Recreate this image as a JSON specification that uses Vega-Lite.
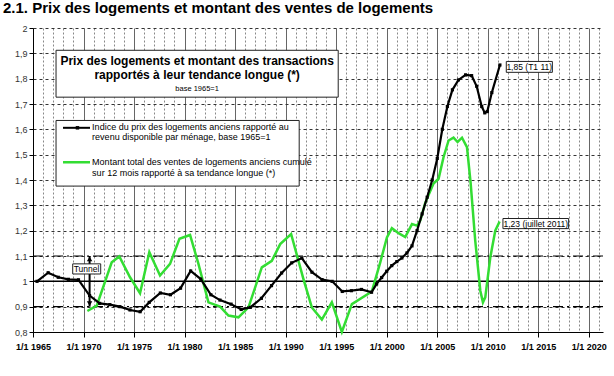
{
  "$schema": "https://vega.github.io/schema/vega-lite/v6.json",
  "width": 570,
  "height": 304,
  "autosize": {"type": "none"},
  "padding": {"left": 33, "top": 28, "right": 11, "bottom": 44},
  "background": "white",
  "title": {"text": "2.1. Prix des logements et montant des ventes de logements", "anchor": "start", "frame": "group", "dx": -30, "dy": 18, "offset": 14, "baseline": "alphabetic", "font": "Liberation Sans", "fontSize": 15, "fontWeight": "bold", "color": "#000"},
  "config": {"view": {"stroke": null}, "font": "Liberation Sans"},
  "datasets": {
    "black": [
      {"year": 1965.4, "value": 1.000}, {"year": 1966.5, "value": 1.034}, {"year": 1967.5, "value": 1.016}, {"year": 1968.5, "value": 1.008}, {"year": 1969.5, "value": 1.006},
      {"year": 1970.6, "value": 0.944}, {"year": 1971.6, "value": 0.913}, {"year": 1972.6, "value": 0.908}, {"year": 1973.6, "value": 0.900}, {"year": 1974.6, "value": 0.887},
      {"year": 1975.6, "value": 0.880}, {"year": 1976.5, "value": 0.917}, {"year": 1977.6, "value": 0.954}, {"year": 1978.6, "value": 0.947}, {"year": 1979.6, "value": 0.973},
      {"year": 1980.6, "value": 1.041}, {"year": 1981.6, "value": 1.009}, {"year": 1982.6, "value": 0.947}, {"year": 1983.5, "value": 0.926}, {"year": 1984.6, "value": 0.910},
      {"year": 1985.6, "value": 0.889}, {"year": 1986.5, "value": 0.897}, {"year": 1987.6, "value": 0.933}, {"year": 1988.6, "value": 0.983}, {"year": 1989.6, "value": 1.033},
      {"year": 1990.6, "value": 1.073}, {"year": 1991.6, "value": 1.092}, {"year": 1992.6, "value": 1.036}, {"year": 1993.6, "value": 1.007}, {"year": 1994.6, "value": 1.000},
      {"year": 1995.6, "value": 0.960}, {"year": 1996.5, "value": 0.963}, {"year": 1997.5, "value": 0.968}, {"year": 1998.5, "value": 0.957}, {"year": 1999.0, "value": 0.990},
      {"year": 1999.5, "value": 1.015}, {"year": 2000.0, "value": 1.040}, {"year": 2000.5, "value": 1.062}, {"year": 2001.0, "value": 1.078}, {"year": 2001.5, "value": 1.092},
      {"year": 2002.0, "value": 1.112}, {"year": 2002.5, "value": 1.140}, {"year": 2003.0, "value": 1.200}, {"year": 2003.5, "value": 1.266}, {"year": 2004.0, "value": 1.332},
      {"year": 2004.5, "value": 1.400}, {"year": 2005.0, "value": 1.485}, {"year": 2005.5, "value": 1.600}, {"year": 2006.0, "value": 1.690}, {"year": 2006.5, "value": 1.756},
      {"year": 2007.1, "value": 1.795}, {"year": 2007.8, "value": 1.815}, {"year": 2008.4, "value": 1.812}, {"year": 2008.9, "value": 1.770}, {"year": 2009.4, "value": 1.690},
      {"year": 2009.7, "value": 1.665}, {"year": 2009.95, "value": 1.670}, {"year": 2010.4, "value": 1.745}, {"year": 2011.2, "value": 1.854}
    ],
    "green": [
      {"year": 1970.38, "value": 0.883}, {"year": 1971.31, "value": 0.904}, {"year": 1972.79, "value": 1.075}, {"year": 1973.54, "value": 1.098}, {"year": 1974.6, "value": 1.016},
      {"year": 1975.59, "value": 0.953}, {"year": 1976.51, "value": 1.115}, {"year": 1977.57, "value": 1.023}, {"year": 1978.56, "value": 1.069}, {"year": 1979.49, "value": 1.168},
      {"year": 1980.54, "value": 1.183}, {"year": 1981.37, "value": 1.069}, {"year": 1982.36, "value": 0.917}, {"year": 1983.51, "value": 0.900}, {"year": 1984.34, "value": 0.865},
      {"year": 1985.33, "value": 0.858}, {"year": 1986.32, "value": 0.897}, {"year": 1987.64, "value": 1.055}, {"year": 1988.63, "value": 1.081}, {"year": 1989.46, "value": 1.147},
      {"year": 1990.54, "value": 1.187}, {"year": 1991.76, "value": 1.009}, {"year": 1992.59, "value": 0.897}, {"year": 1993.58, "value": 0.849}, {"year": 1994.57, "value": 0.917},
      {"year": 1995.56, "value": 0.800}, {"year": 1996.55, "value": 0.910}, {"year": 1998.53, "value": 0.960}, {"year": 1999.36, "value": 1.075}, {"year": 2000.02, "value": 1.173},
      {"year": 2000.51, "value": 1.210}, {"year": 2001.17, "value": 1.190}, {"year": 2001.83, "value": 1.175}, {"year": 2002.5, "value": 1.226}, {"year": 2002.99, "value": 1.220},
      {"year": 2003.32, "value": 1.240}, {"year": 2003.81, "value": 1.310}, {"year": 2004.63, "value": 1.386}, {"year": 2005.13, "value": 1.405}, {"year": 2005.62, "value": 1.490},
      {"year": 2006.12, "value": 1.556}, {"year": 2006.61, "value": 1.567}, {"year": 2007.01, "value": 1.550}, {"year": 2007.45, "value": 1.567}, {"year": 2007.94, "value": 1.530},
      {"year": 2008.3, "value": 1.390}, {"year": 2008.76, "value": 1.160}, {"year": 2009.26, "value": 0.963}, {"year": 2009.52, "value": 0.917}, {"year": 2009.75, "value": 0.937},
      {"year": 2010.25, "value": 1.095}, {"year": 2010.74, "value": 1.200}, {"year": 2011.17, "value": 1.236}
    ],
    "boxes": [
      {"x1": 1967.28, "x2": 1995.2, "y1": 1.727, "y2": 1.912},
      {"x1": 1967.28, "x2": 1991.34, "y1": 1.376, "y2": 1.635},
      {"x1": 2011.83, "x2": 2016.39, "y1": 1.825, "y2": 1.868},
      {"x1": 2011.5, "x2": 2018.0, "y1": 1.208, "y2": 1.248},
      {"x1": 1968.93, "x2": 1971.7, "y1": 1.029, "y2": 1.069}
    ],
    "titleLines": [
      {"year": 1981.24, "value": 1.8696, "text": "Prix des logements et montant des transactions"},
      {"year": 1981.24, "value": 1.813, "text": "rapportés à leur tendance longue (*)"}
    ],
    "baseLine": [{"year": 1981.24, "value": 1.760, "text": "base 1965=1"}],
    "legendText": [
      {"year": 1970.85, "value": 1.6075, "text": "Indice du prix des logements anciens rapporté au"},
      {"year": 1970.85, "value": 1.569, "text": "revenu disponible par ménage, base 1965=1"},
      {"year": 1970.85, "value": 1.470, "text": "Montant total des ventes de logements anciens cumulé"},
      {"year": 1970.85, "value": 1.4285, "text": "sur 12 mois rapporté à sa tendance longue (*)"}
    ],
    "annot": [
      {"year": 2014.1, "value": 1.847, "text": "1,85 (T1 11)"},
      {"year": 2014.75, "value": 1.228, "text": "1,23 (juillet 2011)"},
      {"year": 1970.3, "value": 1.049, "text": "Tunnel"}
    ],
    "tunnel": [{"year": 1970.6, "lo": 0.9, "hi": 1.1}],
    "sampleBlack": [{"x1": 1967.97, "x2": 1970.64, "value": 1.606, "mk": 1969.4}],
    "sampleGreen": [{"x1": 1967.97, "x2": 1970.64, "value": 1.47}]
  },
  "layer": [
    {
      "data": {"values": [{"value": 1.0}]},
      "mark": {"type": "rule", "color": "#000", "strokeWidth": 1.5},
      "encoding": {
        "y": {"field": "value", "type": "quantitative", "title": null,
          "scale": {"domain": [0.8, 2.0], "nice": false, "zero": false},
          "axis": {"values": [0.8, 0.9, 1.0, 1.1, 1.2, 1.3, 1.4, 1.5, 1.6, 1.7, 1.8, 1.9, 2.0], "tickCount": 50,
            "labelExpr": "replace(format(datum.value, '.1~f'), '.', ',')",
            "labelFontSize": 9, "labelColor": "#333", "labelPadding": 2, "tickSize": 4, "tickColor": "#000",
            "domainColor": "#000", "grid": true, "gridColor": "#333", "gridDash": [3, 3], "gridWidth": 1}}
      }
    },
    {
      "data": {"values": [{"value": 0.9}, {"value": 1.1}]},
      "mark": {"type": "rule", "color": "#000", "strokeWidth": 1.2, "strokeDash": [10, 4, 2, 4]},
      "encoding": {"y": {"field": "value", "type": "quantitative", "title": null}}
    },
    {
      "data": {"name": "green"},
      "mark": {"type": "line", "color": "#33dd33", "strokeWidth": 2.5},
      "encoding": {
        "x": {"field": "year", "type": "quantitative", "title": null,
          "scale": {"domain": [1965, 2021.4], "nice": false, "zero": false},
          "axis": {"values": [1965,1966,1967,1968,1969,1970,1971,1972,1973,1974,1975,1976,1977,1978,1979,1980,1981,1982,1983,1984,1985,1986,1987,1988,1989,1990,1991,1992,1993,1994,1995,1996,1997,1998,1999,2000,2001,2002,2003,2004,2005,2006,2007,2008,2009,2010,2011,2012,2013,2014,2015,2016,2017,2018,2019,2020,2021],
            "tickCount": 200,
            "labelExpr": "datum.value % 5 === 0 ? '1/1 ' + datum.value : ''",
            "labelFontSize": 9, "labelFontWeight": "bold", "labelColor": "#000", "labelPadding": 5, "labelFlush": false, "labelOverlap": false,
            "tickSize": 5, "tickColor": "#000", "tickOpacity": {"condition": {"test": "datum.value % 5 === 0", "value": 1}, "value": 0},
            "domainColor": "#000", "grid": true,
            "gridColor": {"condition": {"test": "datum.value % 5 === 0", "value": "#666"}, "value": "#888"},
            "gridDash": {"condition": {"test": "datum.value % 5 === 0", "value": []}, "value": [2, 2]},
            "gridWidth": 1}},
        "y": {"field": "value", "type": "quantitative", "title": null}
      }
    },
    {
      "data": {"name": "black"},
      "mark": {"type": "line", "color": "#000", "strokeWidth": 2.2},
      "encoding": {
        "x": {"field": "year", "type": "quantitative", "title": null},
        "y": {"field": "value", "type": "quantitative", "title": null}
      }
    },
    {
      "data": {"name": "black"},
      "mark": {"type": "point", "shape": "square", "filled": true, "color": "#000", "size": 10, "opacity": 1},
      "encoding": {
        "x": {"field": "year", "type": "quantitative", "title": null},
        "y": {"field": "value", "type": "quantitative", "title": null}
      }
    },
    {
      "data": {"name": "tunnel"},
      "mark": {"type": "rule", "color": "#000", "strokeWidth": 2},
      "encoding": {
        "x": {"field": "year", "type": "quantitative", "title": null},
        "y": {"field": "lo", "type": "quantitative", "title": null},
        "y2": {"field": "hi"}
      }
    },
    {
      "data": {"name": "tunnel"},
      "mark": {"type": "point", "shape": "triangle-up", "filled": true, "color": "#000", "size": 30, "yOffset": 3, "opacity": 1},
      "encoding": {
        "x": {"field": "year", "type": "quantitative", "title": null},
        "y": {"field": "hi", "type": "quantitative", "title": null}
      }
    },
    {
      "data": {"name": "tunnel"},
      "mark": {"type": "point", "shape": "triangle-down", "filled": true, "color": "#000", "size": 30, "yOffset": -3, "opacity": 1},
      "encoding": {
        "x": {"field": "year", "type": "quantitative", "title": null},
        "y": {"field": "lo", "type": "quantitative", "title": null}
      }
    },
    {
      "data": {"name": "boxes"},
      "mark": {"type": "rect", "fill": "white", "stroke": "#222", "strokeWidth": 1},
      "encoding": {
        "x": {"field": "x1", "type": "quantitative", "title": null},
        "x2": {"field": "x2"},
        "y": {"field": "y1", "type": "quantitative", "title": null},
        "y2": {"field": "y2"}
      }
    },
    {
      "data": {"name": "sampleBlack"},
      "mark": {"type": "rule", "color": "#000", "strokeWidth": 2},
      "encoding": {
        "x": {"field": "x1", "type": "quantitative", "title": null},
        "x2": {"field": "x2"},
        "y": {"field": "value", "type": "quantitative", "title": null}
      }
    },
    {
      "data": {"name": "sampleBlack"},
      "mark": {"type": "point", "shape": "square", "filled": true, "color": "#000", "size": 12, "opacity": 1},
      "encoding": {
        "x": {"field": "mk", "type": "quantitative", "title": null},
        "y": {"field": "value", "type": "quantitative", "title": null}
      }
    },
    {
      "data": {"name": "sampleGreen"},
      "mark": {"type": "rule", "color": "#33dd33", "strokeWidth": 2.5},
      "encoding": {
        "x": {"field": "x1", "type": "quantitative", "title": null},
        "x2": {"field": "x2"},
        "y": {"field": "value", "type": "quantitative", "title": null}
      }
    },
    {
      "data": {"name": "titleLines"},
      "mark": {"type": "text", "font": "Liberation Sans", "fontSize": 12, "fontWeight": "bold", "color": "#000", "align": "center", "baseline": "middle"},
      "encoding": {
        "x": {"field": "year", "type": "quantitative", "title": null},
        "y": {"field": "value", "type": "quantitative", "title": null},
        "text": {"field": "text"}
      }
    },
    {
      "data": {"name": "baseLine"},
      "mark": {"type": "text", "font": "Liberation Sans", "fontSize": 7.5, "color": "#000", "align": "center", "baseline": "middle"},
      "encoding": {
        "x": {"field": "year", "type": "quantitative", "title": null},
        "y": {"field": "value", "type": "quantitative", "title": null},
        "text": {"field": "text"}
      }
    },
    {
      "data": {"name": "legendText"},
      "mark": {"type": "text", "font": "Liberation Sans", "fontSize": 9, "color": "#000", "align": "left", "baseline": "middle"},
      "encoding": {
        "x": {"field": "year", "type": "quantitative", "title": null},
        "y": {"field": "value", "type": "quantitative", "title": null},
        "text": {"field": "text"}
      }
    },
    {
      "data": {"name": "annot"},
      "mark": {"type": "text", "font": "Liberation Sans", "fontSize": 8.5, "color": "#000", "align": "center", "baseline": "middle"},
      "encoding": {
        "x": {"field": "year", "type": "quantitative", "title": null},
        "y": {"field": "value", "type": "quantitative", "title": null},
        "text": {"field": "text"}
      }
    }
  ]
}
